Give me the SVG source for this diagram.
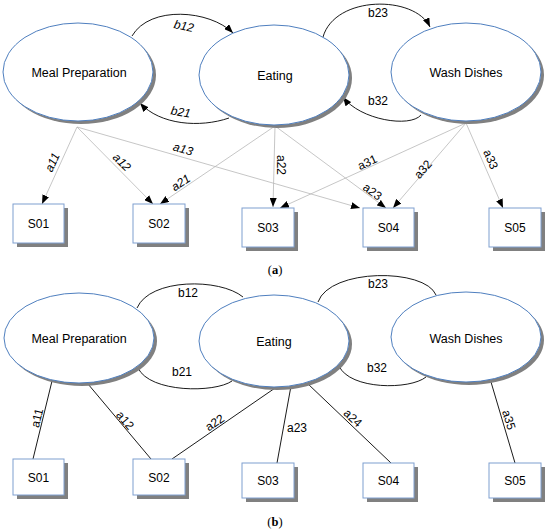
<svg xmlns="http://www.w3.org/2000/svg" width="550" height="532" viewBox="0 0 550 532">
<style>
.sh{fill:#808080;stroke:none}
.el{fill:#fff;stroke:#4f7fbf;stroke-width:1}
.bx{fill:#fff;stroke:#7f9fd0;stroke-width:1}
.t{font-family:"Liberation Sans",Arial,sans-serif;font-size:12.5px;fill:#000;text-anchor:middle}
.l{font-family:"Liberation Sans",Arial,sans-serif;font-size:12px;fill:#000;text-anchor:middle}
.i{font-style:italic}
.cap{font-family:"Liberation Serif","Times New Roman",serif;font-size:12.5px;fill:#000;text-anchor:middle}
.ga{fill:none;stroke:#b8b8b8;stroke-width:0.8}
.ar{fill:none;stroke:#000;stroke-width:0.9}
.bl{fill:none;stroke:#000;stroke-width:0.9}
</style>
<defs>
<marker id="ah" markerUnits="userSpaceOnUse" markerWidth="9" markerHeight="7" refX="9" refY="3.5" orient="auto">
<path d="M0,0 L9,3.5 L0,7 z" fill="#000"/>
</marker>
</defs>

<!-- ===== (a) ===== -->
<g id="connectors-a">
<path class="ar" d="M132,36 C150,5 210,10 233,33" marker-end="url(#ah)"/>
<path class="ar" d="M229,118 C200,128 160,125 140,103" marker-end="url(#ah)"/>
<path class="ar" d="M323,37 C335,-5 415,-5 430,27" marker-end="url(#ah)"/>
<path class="ar" d="M421,115 C410,128 360,120 343,97" marker-end="url(#ah)"/>
<line class="ga" x1="77" y1="127" x2="42" y2="204" marker-end="url(#ah)"/>
<line class="ga" x1="77" y1="127" x2="153" y2="204" marker-end="url(#ah)"/>
<line class="ga" x1="77" y1="127" x2="360" y2="208" marker-end="url(#ah)"/>
<line class="ga" x1="275" y1="126" x2="160" y2="204" marker-end="url(#ah)"/>
<line class="ga" x1="275" y1="126" x2="273" y2="207" marker-end="url(#ah)"/>
<line class="ga" x1="275" y1="126" x2="386" y2="208" marker-end="url(#ah)"/>
<line class="ga" x1="466" y1="123" x2="280" y2="208" marker-end="url(#ah)"/>
<line class="ga" x1="466" y1="123" x2="393" y2="208" marker-end="url(#ah)"/>
<line class="ga" x1="466" y1="123" x2="503" y2="208" marker-end="url(#ah)"/>
<text class="l i" transform="translate(183,30) rotate(12)">b12</text>
<text class="l i" transform="translate(180,116) rotate(10)">b21</text>
<text class="l" x="378" y="17">b23</text>
<text class="l" x="378" y="105">b32</text>
<text class="l i" transform="translate(56,164) rotate(-65.6)">a11</text>
<text class="l i" transform="translate(119,165) rotate(45)">a12</text>
<text class="l i" transform="translate(182,153) rotate(16)">a13</text>
<text class="l i" transform="translate(183,186) rotate(-34)">a21</text>
<text class="l" transform="translate(277,165) rotate(90)">a22</text>
<text class="l" transform="translate(370,195) rotate(36.5)">a23</text>
<text class="l" transform="translate(369,166) rotate(-24.6)">a31</text>
<text class="l" transform="translate(426,172) rotate(-49)">a32</text>
<text class="l" transform="translate(487,161) rotate(66.5)">a33</text>
</g>

<g id="a-meal">
<ellipse class="sh" cx="81" cy="75" rx="75" ry="49"/>
<ellipse class="el" cx="78" cy="72" rx="75" ry="49"/>
<text class="t" x="79" y="77">Meal Preparation</text>
</g>
<g id="a-eating">
<ellipse class="sh" cx="277" cy="78" rx="75" ry="50"/>
<ellipse class="el" cx="274" cy="75" rx="75" ry="50"/>
<text class="t" x="275" y="80">Eating</text>
</g>
<g id="a-wash">
<ellipse class="sh" cx="469" cy="75" rx="75" ry="49"/>
<ellipse class="el" cx="466" cy="72" rx="75" ry="49"/>
<text class="t" x="466" y="77">Wash Dishes</text>
</g>
<g id="a-s01"><rect class="sh" x="17" y="208" width="51" height="39"/><rect class="bx" x="13" y="204" width="51" height="39"/><text class="l" x="38.5" y="228">S01</text></g>
<g id="a-s02"><rect class="sh" x="137" y="208" width="52" height="39"/><rect class="bx" x="133" y="204" width="52" height="39"/><text class="l" x="159" y="228">S02</text></g>
<g id="a-s03"><rect class="sh" x="246" y="212" width="52" height="39"/><rect class="bx" x="242" y="208" width="52" height="39"/><text class="l" x="268" y="232">S03</text></g>
<g id="a-s04"><rect class="sh" x="367" y="212" width="51" height="39"/><rect class="bx" x="363" y="208" width="51" height="39"/><text class="l" x="388.5" y="232">S04</text></g>
<g id="a-s05"><rect class="sh" x="493" y="212" width="52" height="39"/><rect class="bx" x="489" y="208" width="52" height="39"/><text class="l" x="515" y="232">S05</text></g>
<text class="cap" x="275" y="274">(<tspan font-weight="bold">a</tspan>)</text>

<!-- ===== (b) ===== -->
<g id="connectors-b">
<path class="bl" d="M137,308 C150,278 220,278 243,297"/>
<path class="bl" d="M138,368 C150,393 215,393 232,381"/>
<path class="bl" d="M318,302 C330,268 425,268 436,295"/>
<path class="bl" d="M339,366 C350,390 410,390 426,377"/>
<line class="bl" x1="52" y1="381" x2="33" y2="459"/>
<line class="bl" x1="88" y1="384" x2="151" y2="459"/>
<line class="bl" x1="278" y1="386" x2="172" y2="459"/>
<line class="bl" x1="291" y1="386" x2="277" y2="463"/>
<line class="bl" x1="307" y1="383" x2="391" y2="463"/>
<line class="bl" x1="491" y1="382" x2="515" y2="463"/>
<text class="l" x="188" y="297">b12</text>
<text class="l" x="182" y="376">b21</text>
<text class="l" x="378" y="288">b23</text>
<text class="l" x="377" y="372">b32</text>
<text class="l" transform="translate(41,419) rotate(-76)">a11</text>
<text class="l" transform="translate(122,423) rotate(50)">a12</text>
<text class="l" transform="translate(217,426) rotate(-34)">a22</text>
<text class="l" x="297" y="432">a23</text>
<text class="l" transform="translate(350,421) rotate(43.6)">a24</text>
<text class="l" transform="translate(505,421) rotate(73)">a35</text>
</g>

<g id="b-meal">
<ellipse class="sh" cx="82" cy="341" rx="75" ry="45"/>
<ellipse class="el" cx="79" cy="338" rx="75" ry="45"/>
<text class="t" x="79" y="343">Meal Preparation</text>
</g>
<g id="b-eating">
<ellipse class="sh" cx="277" cy="344" rx="75" ry="46"/>
<ellipse class="el" cx="274" cy="341" rx="75" ry="46"/>
<text class="t" x="274" y="346">Eating</text>
</g>
<g id="b-wash">
<ellipse class="sh" cx="469" cy="340" rx="75" ry="45"/>
<ellipse class="el" cx="466" cy="337" rx="75" ry="45"/>
<text class="t" x="466" y="343">Wash Dishes</text>
</g>
<g id="b-s01"><rect class="sh" x="17" y="463" width="51" height="36"/><rect class="bx" x="13" y="459" width="51" height="36"/><text class="l" x="38.5" y="482">S01</text></g>
<g id="b-s02"><rect class="sh" x="137" y="463" width="52" height="36"/><rect class="bx" x="133" y="459" width="52" height="36"/><text class="l" x="159" y="482">S02</text></g>
<g id="b-s03"><rect class="sh" x="246" y="467" width="52" height="35"/><rect class="bx" x="242" y="463" width="52" height="35"/><text class="l" x="268" y="485">S03</text></g>
<g id="b-s04"><rect class="sh" x="367" y="467" width="51" height="35"/><rect class="bx" x="363" y="463" width="51" height="35"/><text class="l" x="388.5" y="485">S04</text></g>
<g id="b-s05"><rect class="sh" x="493" y="467" width="52" height="35"/><rect class="bx" x="489" y="463" width="52" height="35"/><text class="l" x="515" y="485">S05</text></g>
<text class="cap" x="275" y="526">(<tspan font-weight="bold">b</tspan>)</text>
</svg>
